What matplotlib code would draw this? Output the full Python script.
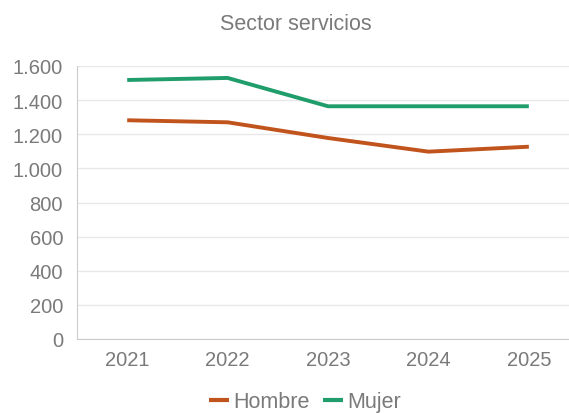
import matplotlib
matplotlib.use("Agg")
import matplotlib.pyplot as plt

plt.rcParams['font.family'] = ['Liberation Sans', 'DejaVu Sans']

years = ["2021", "2022", "2023", "2024", "2025"]
hombre = [1282, 1270, 1178, 1098, 1127]
mujer = [1518, 1530, 1364, 1364, 1364]
yticks = [0, 200, 400, 600, 800, 1000, 1200, 1400, 1600]
ytick_labels = ["0", "200", "400", "600", "800", "1.000", "1.200", "1.400", "1.600"]

fig = plt.figure(figsize=(5.69, 4.14), dpi=100)
ax = fig.add_axes([77/569, 74/414, 1 - 77/569, (340-67)/414])

x = list(range(len(years)))
ax.plot(x, hombre, color="#C0541C", lw=2.8, label="Hombre", solid_capstyle="butt")
ax.plot(x, mujer, color="#1F9D6B", lw=2.8, label="Mujer", solid_capstyle="butt")

ax.set_xlim(-0.5, 4.4)
ax.set_ylim(0, 1600)
ax.set_yticks(yticks)
ax.set_yticklabels(ytick_labels)
ax.set_xticks(x)
ax.set_xticklabels(years)
ax.tick_params(axis='both', colors="#7a7a7a", labelsize=14.5, length=0)
ax.tick_params(axis='y', pad=10)
ax.tick_params(axis='x', pad=8)
ax.grid(axis='y', color="#e8e8e8", lw=1)
ax.set_axisbelow(True)
for s in ["top", "right"]:
    ax.spines[s].set_visible(False)
ax.spines["left"].set_color("#cccccc")
ax.spines["bottom"].set_color("#cccccc")

fig.text(296/569, 1 - 25/414, "Sector servicios", ha="center", va="center",
         color="#7a7a7a", fontsize=15.5)

leg = fig.legend(loc="center", bbox_to_anchor=(305/569, 1 - 403/414), ncol=2,
                 frameon=False, fontsize=15.5, handlelength=0.93, handletextpad=0.19,
                 columnspacing=0.65, labelcolor="#7a7a7a")
for h in leg.get_lines():
    h.set_linewidth(3)

fig.savefig("out.png", dpi=100)
